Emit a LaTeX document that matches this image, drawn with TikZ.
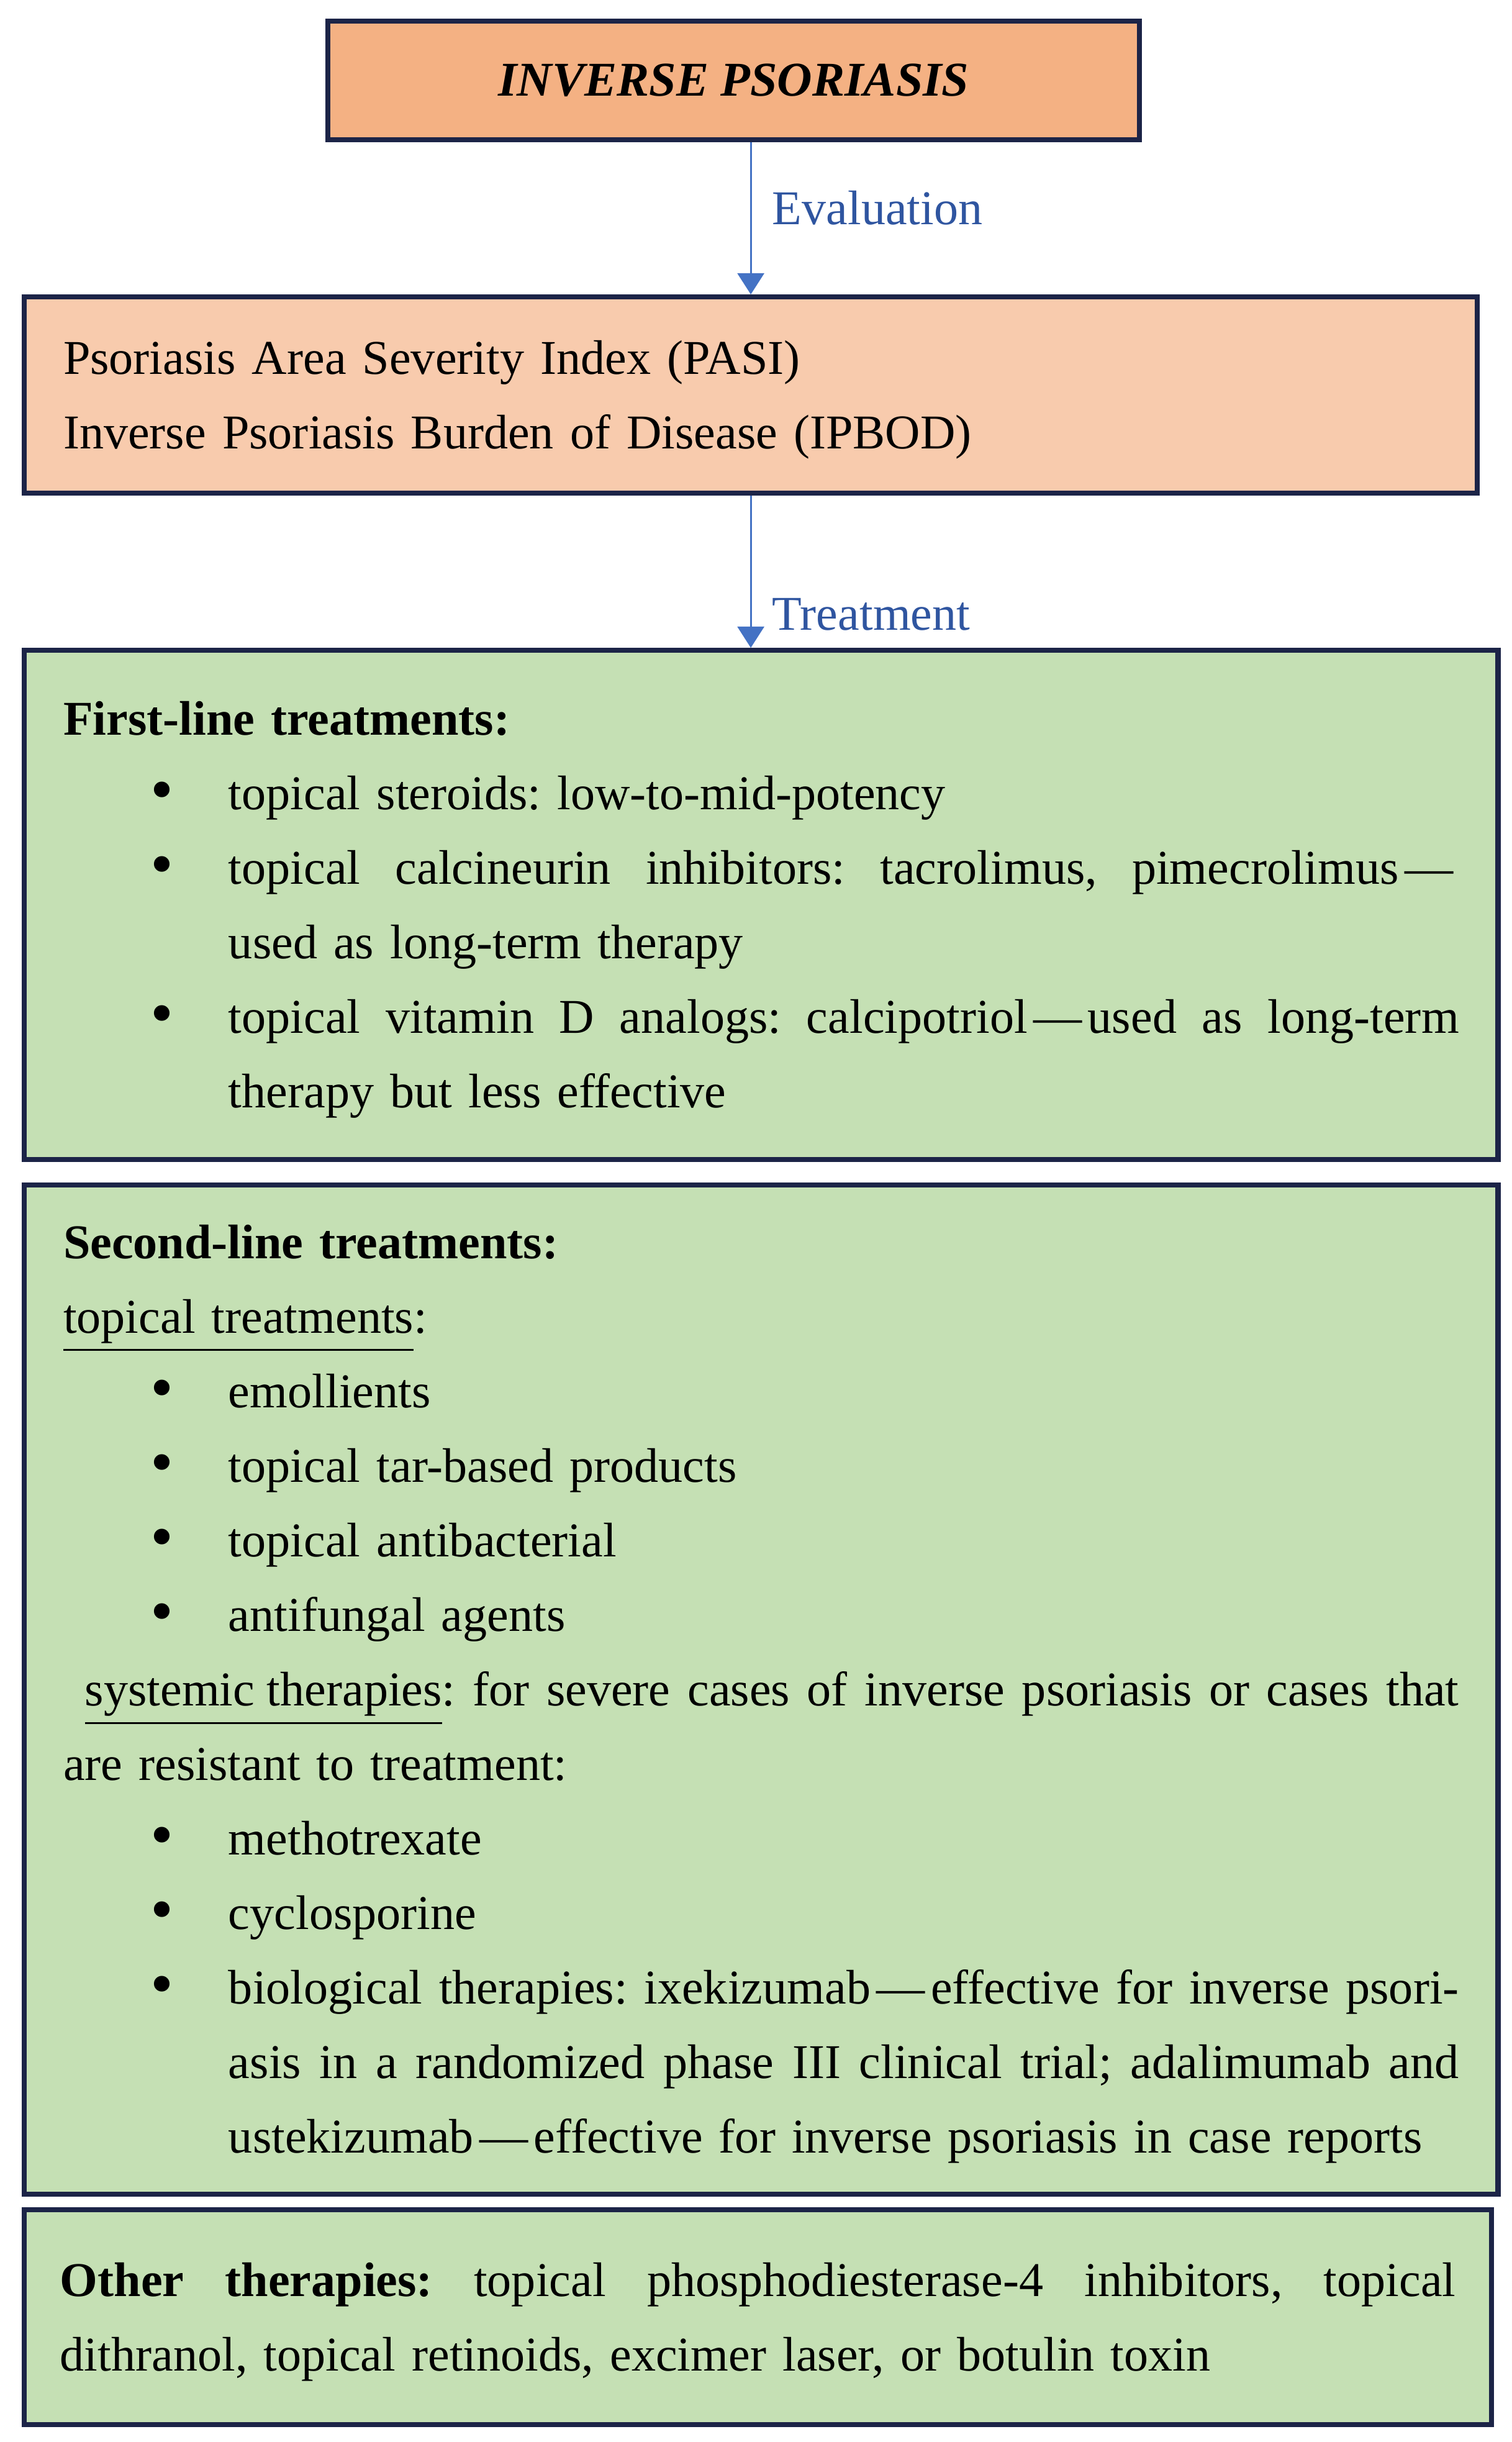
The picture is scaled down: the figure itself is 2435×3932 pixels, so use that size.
\documentclass[tikz,border=0pt]{standalone}
\usepackage{fontspec}
\setmainfont{Liberation Serif}
\usetikzlibrary{arrows.meta}

\definecolor{boxline}{HTML}{1C2447}
\definecolor{topfill}{HTML}{F4B183}
\definecolor{evalfill}{HTML}{F8CBAD}
\definecolor{treatfill}{HTML}{C5E0B4}
\definecolor{arrowblue}{HTML}{4472C4}
\definecolor{labelblue}{HTML}{2F55A0}

\newlength\boxtw
\setlength\boxtw{303.4pt}
\newlength\itemtw
\setlength\itemtw{\dimexpr\boxtw-35.9pt\relax}

% justified line, bullet lines and their continuations
\newcommand{\jline}[2]{\makebox[#1][s]{\spaceskip=0pt\xspaceskip=0pt #2}}
\newcommand{\bmark}{\hspace*{18.9pt}\makebox[17pt][l]{\raisebox{-0.4pt}{\scalebox{1.35}{\textbullet}}}}
\newcommand{\bitem}[1]{\bmark#1}
\newcommand{\bjust}[1]{\bmark\jline{\itemtw}{#1}}
\newcommand{\cjust}[1]{\hspace*{35.9pt}\jline{\itemtw}{#1}}
\newcommand{\contline}[1]{\hspace*{35.9pt}#1}
\newcommand{\dash}{\kern0.12em---\kern0.12em}

\tikzset{
  box/.style={draw=boxline, line width=1.1pt, anchor=north west, inner ysep=0pt,
    font=\fontsize{10.55pt}{16.2pt}\selectfont\frenchspacing},
  textbox/.style={box, align=left, inner xsep=8.5pt, text width=\boxtw, text height=9.3pt},
  flow/.style={draw=arrowblue, line width=0.4pt, -{Triangle[length=4.6pt,width=5.8pt]}},
  flowlabel/.style={right, text=labelblue, font=\fontsize{10.55pt}{12pt}\selectfont,
    inner sep=0pt, xshift=4.5pt},
}

\begin{document}
\begin{tikzpicture}[x=0.135pt, y=-0.135pt]
  \useasboundingbox (0,0) rectangle (2435,3932);

  \node[box, fill=topfill, minimum width=176.4pt, minimum height=25.8pt] (top) at (524,30)
    {\textbf{\textit{INVERSE PSORIASIS}}};
  \node[textbox, fill=evalfill, text width=298.9pt, minimum height=42.7pt] (eval) at (35,474)
    {Psoriasis Area Severity Index (PASI)\\
     Inverse Psoriasis Burden of Disease (IPBOD)};

  \node[textbox, fill=treatfill, minimum height=110.7pt] (first) at (35,1043)
    {\textbf{First-line treatments:}\\
     \bitem{topical steroids: low-to-mid-potency}\\
     \bjust{topical calcineurin inhibitors: tacrolimus, pimecrolimus\dash}\\
     \contline{used as long-term therapy}\\
     \bjust{topical vitamin D analogs: calcipotriol\dash used as long-term}\\
     \contline{therapy but less effective}};

  \node[textbox, fill=treatfill, minimum height=219.4pt] (second) at (35,1904)
    {\textbf{Second-line treatments:}\\
     \underline{topical treatments}:\\
     \bitem{emollients}\\
     \bitem{topical tar-based products}\\
     \bitem{topical antibacterial}\\
     \bitem{antifungal agents}\\
     \hspace*{4.7pt}\jline{\dimexpr\boxtw-4.7pt}{\underline{systemic therapies}: for severe cases of inverse psoriasis or cases that}\\
     are resistant to treatment:\\
     \bitem{methotrexate}\\
     \bitem{cyclosporine}\\
     \bjust{biological therapies: ixekizumab\dash effective for inverse psori-}\\
     \cjust{asis in a randomized phase III clinical trial; adalimumab and}\\
     \contline{ustekizumab\dash effective for inverse psoriasis in case reports}};

  \node[textbox, fill=treatfill, minimum height=46.7pt, inner xsep=7.8pt] (other) at (35,3554)
    {\jline{\boxtw}{\textbf{Other therapies:} topical phosphodiesterase-4 inhibitors, topical}\\
     dithranol, topical retinoids, excimer laser, or botulin toxin};

  \draw[flow] (top.south -| eval.north) -- node[flowlabel, pos=0.43] (evallabel) {Evaluation} (eval.north);
  \draw[flow] (eval.south) -- node[flowlabel, pos=0.78] (treatlabel) {Treatment} (first.north -| eval.south);
\end{tikzpicture}
\end{document}
